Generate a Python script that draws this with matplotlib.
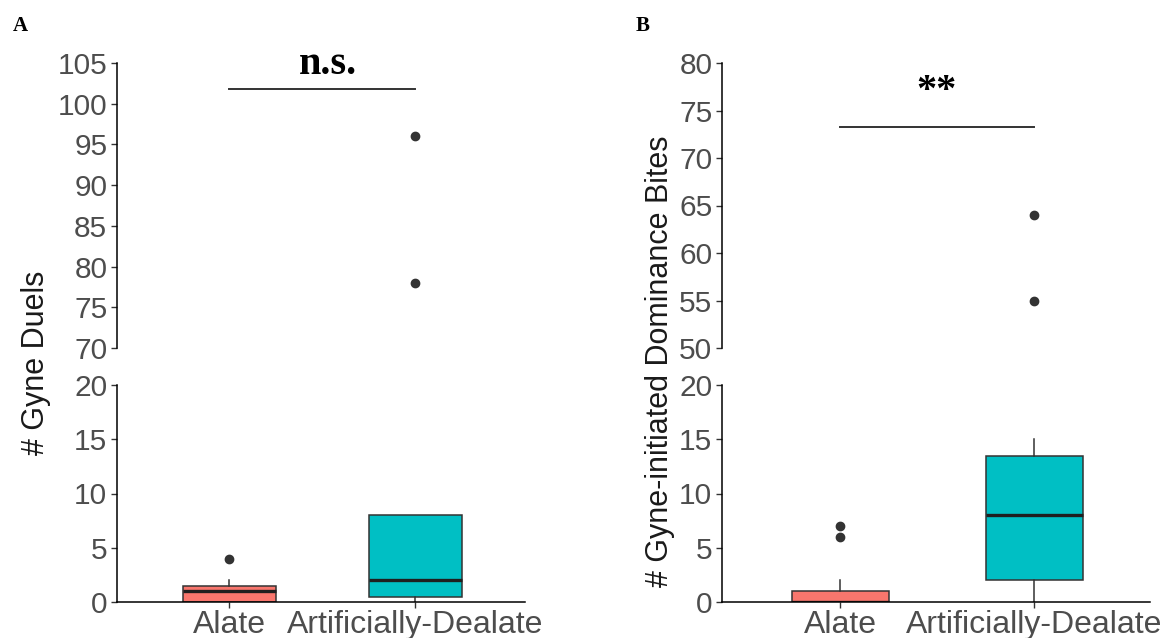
import numpy as np
import matplotlib
matplotlib.use("Agg")
import matplotlib.pyplot as plt
from matplotlib.lines import Line2D

plt.rcParams['font.family'] = ['Liberation Sans', 'DejaVu Sans']

W, H = 1163, 638

groups = ["Alate", "Artificially-Dealate"]
fill_cols = ["#F8766D", "#00BFC4"]

# panel A: gyne duels (box summaries)
duels_q1 = [0, 0.5]
duels_med = [1, 2]
duels_q3 = [1.5, 8]
duels_wlo = [0, 0]
duels_whi = [2, 8]
duels_out = [[4], [78, 96]]

# panel B: gyne-initiated dominance bites
bites_q1 = [0, 2]
bites_med = [0, 8]
bites_q3 = [1, 13.5]
bites_wlo = [0, 0]
bites_whi = [2, 15]
bites_out = [[6, 7], [55, 64]]

fig = plt.figure(figsize=(W / 100, H / 100), dpi=100)


def px_axes(x0, y0, x1, y1):
    return fig.add_axes([x0 / W, 1 - y1 / H, (x1 - x0) / W, (y1 - y0) / H])


def fig_line(x0, x1, y):
    fig.add_artist(Line2D([x0 / W, x1 / W], [1 - y / H, 1 - y / H],
                          transform=fig.transFigure, color="#333333", lw=1.4))


def draw_boxes(ax, q1, med, q3, wlo, whi, outs):
    stats = []
    for i in range(len(groups)):
        stats.append(dict(q1=q1[i], med=med[i], q3=q3[i], whislo=wlo[i],
                          whishi=whi[i], fliers=outs[i], label=groups[i]))
    parts = ax.bxp(stats, positions=[1, 2], widths=0.5, patch_artist=True,
                   showcaps=False,
                   boxprops=dict(edgecolor="#333333", linewidth=1.1),
                   medianprops=dict(color="#1f1f1f", linewidth=2.4),
                   whiskerprops=dict(color="#333333", linewidth=1.1),
                   flierprops=dict(marker="o", markerfacecolor="#333333",
                                   markeredgecolor="#333333", markersize=6))
    for b, c in zip(parts["boxes"], fill_cols):
        b.set_facecolor(c)


def style(ax, bottom):
    for s in ["top", "right"]:
        ax.spines[s].set_visible(False)
    ax.spines["left"].set_linewidth(1.1)
    ax.spines["bottom"].set_linewidth(1.1)
    ax.tick_params(axis="y", length=4, width=1, color="#333333",
                   labelsize=21.5, labelcolor="#4d4d4d", pad=3)
    ax.tick_params(axis="x", length=4, width=1, color="#333333",
                   labelsize=23, labelcolor="#4d4d4d", pad=2)
    if not bottom:
        ax.spines["bottom"].set_visible(False)
        ax.set_xticks([])
    else:
        ax.set_xticks([1, 2])
        ax.set_xticklabels(groups)


def panel(xl, xr, cx1, cx2, top_lim, top_ticks, data):
    sp = cx2 - cx1
    axt = px_axes(xl, 63, xr, 348)
    axb = px_axes(xl, 385, xr, 602)
    for ax in (axt, axb):
        draw_boxes(ax, *data)
        ax.set_xlim(1 - (cx1 - xl) / sp, 2 + (xr - cx2) / sp)
    axt.set_ylim(*top_lim)
    axt.set_yticks(top_ticks)
    axb.set_ylim(0, 20)
    axb.set_yticks([0, 5, 10, 15, 20])
    style(axt, False)
    style(axb, True)
    return axt, axb


panel(117, 525, 229, 415, (70, 105), range(70, 106, 5),
      (duels_q1, duels_med, duels_q3, duels_wlo, duels_whi, duels_out))
panel(722, 1150, 840, 1034, (50, 80), range(50, 81, 5),
      (bites_q1, bites_med, bites_q3, bites_wlo, bites_whi, bites_out))

# y labels
fig.text(36 / W, 1 - 363 / H, "# Gyne Duels", rotation=90, fontsize=22,
         ha="center", va="center", color="#1a1a1a")
fig.text(660 / W, 1 - 361 / H, "# Gyne-initiated Dominance Bites", rotation=90,
         fontsize=22, ha="center", va="center", color="#1a1a1a")

# panel letters
fig.text(13 / W, 1 - 26 / H, "A", fontsize=15, fontweight="bold",
         family="Liberation Serif", va="center")
fig.text(636 / W, 1 - 26 / H, "B", fontsize=15, fontweight="bold",
         family="Liberation Serif", va="center")

# significance
fig_line(229, 415, 89)
fig.text(328 / W, 1 - 64 / H, "n.s.", fontsize=29, fontweight="bold",
         family="Liberation Serif", ha="center", va="center")
fig_line(840, 1034, 127)
fig.text(936 / W, 1 - 92 / H, "**", fontsize=29, fontweight="bold",
         family="Liberation Serif", ha="center", va="center")

plt.savefig("out.png", dpi=100)
